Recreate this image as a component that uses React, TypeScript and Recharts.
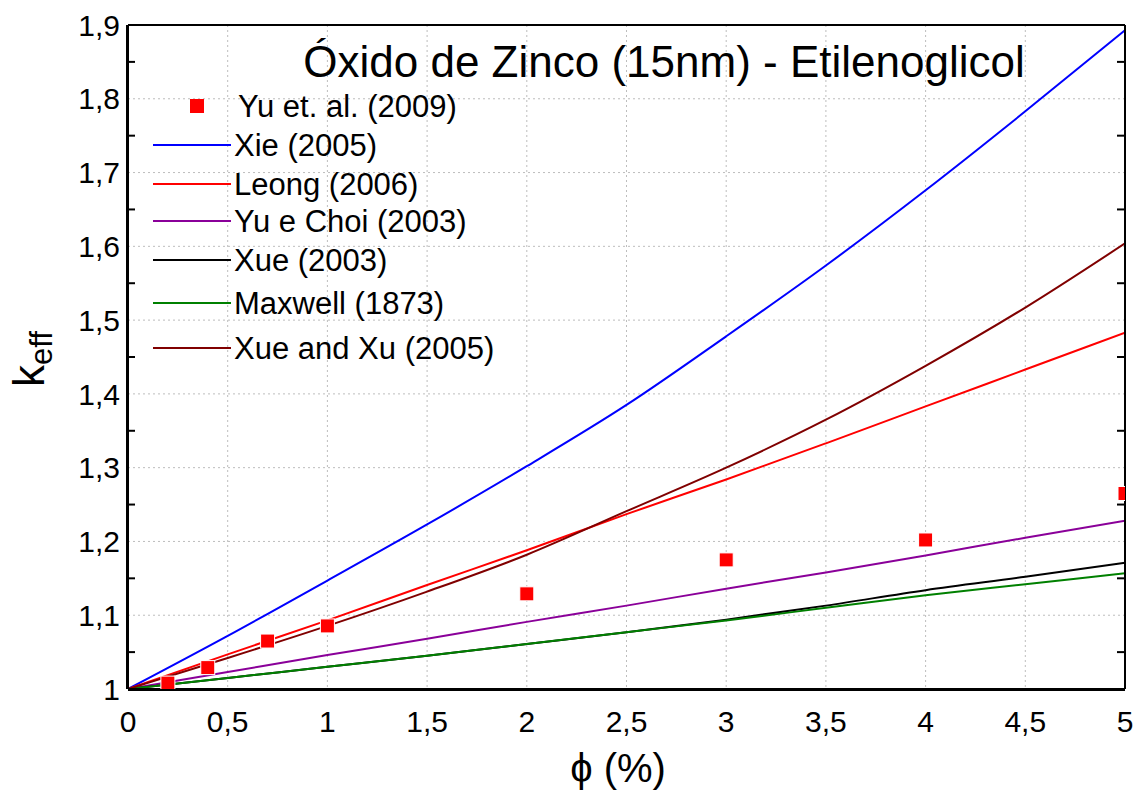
import React from 'react';
import { ComposedChart, Line, Scatter, XAxis, YAxis, CartesianGrid } from 'recharts';

// volume fraction grid used for the model curves
const phi = [0, 0.5, 1, 1.5, 2, 2.5, 3, 3.5, 4, 4.5, 5];
const xie = [1, 1.072, 1.147, 1.223, 1.302, 1.385, 1.478, 1.574, 1.676, 1.783, 1.893];
const leong = [1, 1.047, 1.093, 1.141, 1.188, 1.237, 1.284, 1.333, 1.383, 1.433, 1.483];
const yuChoi = [1, 1.023, 1.046, 1.068, 1.091, 1.113, 1.136, 1.158, 1.181, 1.205, 1.228];
const xue2003 = [1, 1.015, 1.03, 1.045, 1.061, 1.077, 1.094, 1.113, 1.134, 1.152, 1.171];
const maxwell = [1, 1.015, 1.03, 1.045, 1.061, 1.077, 1.093, 1.11, 1.127, 1.142, 1.157];
const xueXu = [1, 1.042, 1.0855, 1.132, 1.182, 1.241, 1.3, 1.365, 1.438, 1.517, 1.604];

// measured points, Yu et al.
const expPhi = [0.2, 0.4, 0.7, 1, 2, 3, 4, 5];
const expK = [1.008, 1.029, 1.065, 1.0855, 1.129, 1.175, 1.202, 1.265];

const xTicks = [0, 0.5, 1, 1.5, 2, 2.5, 3, 3.5, 4, 4.5, 5];
const yTicks = [1, 1.1, 1.2, 1.3, 1.4, 1.5, 1.6, 1.7, 1.8, 1.9];
const xMinor = [0.25, 0.75, 1.25, 1.75, 2.25, 2.75, 3.25, 3.75, 4.25, 4.75];
const yMinor = [1.05, 1.15, 1.25, 1.35, 1.45, 1.55, 1.65, 1.75, 1.85];

const models = [
  { name: 'Xie (2005)', values: xie, color: '#0000ff' },
  { name: 'Leong (2006)', values: leong, color: '#ff0000' },
  { name: 'Yu e Choi (2003)', values: yuChoi, color: '#8a0099' },
  { name: 'Xue (2003)', values: xue2003, color: '#000000' },
  { name: 'Maxwell (1873)', values: maxwell, color: '#008000' },
  { name: 'Xue and Xu (2005)', values: xueXu, color: '#800000' },
];

const toPoints = (xs: number[], ys: number[]) => xs.map((x, i) => ({ x, y: ys[i] }));
const comma = (v: number) => String(v).replace('.', ',');

const FONT = '"Liberation Sans", Arial, sans-serif';
const tickStyle = { fill: '#000', fontSize: 30, fontFamily: FONT };
const black2 = { stroke: '#000', strokeWidth: 2 };

// legend rows (y of each entry) inside the plot
const legendRows = [106, 145, 184, 221, 260, 303, 348];

// minor axes draw only their inward tick marks
const NoLabel = () => <g />;

const SquareDot = (props: any) => {
  const { cx, cy } = props;
  if (cx == null || cy == null) return <g />;
  return <rect x={cx - 7} y={cy - 7} width={14} height={14} fill="#ff0000" stroke="#fff" strokeWidth={1} />;
};

export default function App() {
  const expData = toPoints(expPhi, expK);

  return (
    <div style={{ position: 'absolute', left: 0, top: 0, width: 1141, height: 796, background: '#fff', fontFamily: FONT }}>
      <ComposedChart width={1141} height={796} margin={{ top: 24, right: 15, bottom: 105, left: 126 }}>
        <CartesianGrid stroke="#bdbdbd" strokeDasharray="2 3" />
        <XAxis
          dataKey="x"
          type="number"
          domain={[0, 5]}
          ticks={xTicks}
          interval={0}
          allowDataOverflow
          height={1}
          tickLine={false}
          tickSize={0}
          tickMargin={22}
          tick={tickStyle}
          tickFormatter={comma}
          axisLine={black2}
        />
        <XAxis
          xAxisId="minorBottom"
          type="number"
          domain={[0, 5]}
          ticks={xMinor}
          interval={0}
          allowDataOverflow
          height={1}
          tick={NoLabel}
          tickSize={-8}
          tickLine={black2}
          axisLine={black2}
        />
        <XAxis
          xAxisId="minorTop"
          orientation="top"
          type="number"
          domain={[0, 5]}
          ticks={xMinor}
          interval={0}
          allowDataOverflow
          height={1}
          tick={NoLabel}
          tickSize={-8}
          tickLine={black2}
          axisLine={black2}
        />
        <YAxis
          dataKey="y"
          type="number"
          domain={[1, 1.9]}
          ticks={yTicks}
          interval={0}
          allowDataOverflow
          width={1}
          tickLine={false}
          tickSize={0}
          tickMargin={8}
          tick={tickStyle}
          tickFormatter={comma}
          axisLine={black2}
        />
        <YAxis
          yAxisId="minorLeft"
          type="number"
          domain={[1, 1.9]}
          ticks={yMinor}
          interval={0}
          allowDataOverflow
          width={1}
          tick={NoLabel}
          tickSize={-8}
          tickLine={black2}
          axisLine={black2}
        />
        <YAxis
          yAxisId="minorRight"
          orientation="right"
          type="number"
          domain={[1, 1.9]}
          ticks={yMinor}
          interval={0}
          allowDataOverflow
          width={1}
          tick={NoLabel}
          tickSize={-8}
          tickLine={black2}
          axisLine={black2}
        />
        {models.map((m) => (
          <Line
            key={m.name}
            data={toPoints(phi, m.values)}
            dataKey="y"
            name={m.name}
            type="monotone"
            stroke={m.color}
            strokeWidth={2}
            dot={false}
            activeDot={false}
            isAnimationActive={false}
          />
        ))}
        <Scatter data={expData} dataKey="y" name="Yu et. al. (2009)" shape={SquareDot} isAnimationActive={false} />
      </ComposedChart>

      <svg width={1141} height={796} style={{ position: 'absolute', left: 0, top: 0, pointerEvents: 'none' }} fontFamily={FONT}>
        <text x={664} y={77} textAnchor="middle" fontSize={44} fill="#000">
          Óxido de Zinco (15nm) - Etilenoglicol
        </text>

        <g fontSize={31} fill="#000">
          <rect x={190} y={legendRows[0] - 7} width={14} height={14} fill="#ff0000" />
          <text x={238} y={legendRows[0]} dominantBaseline="central">Yu et. al. (2009)</text>
          {models.map((m, i) => (
            <g key={m.name}>
              <line x1={153} x2={231} y1={legendRows[i + 1]} y2={legendRows[i + 1]} stroke={m.color} strokeWidth={2} />
              <text x={234} y={legendRows[i + 1]} dominantBaseline="central">{m.name}</text>
            </g>
          ))}
        </g>

        <text x={618} y={782} textAnchor="middle" fontSize={40} fill="#000">ϕ (%)</text>

        <text transform="rotate(-90, 44, 359)" x={44} y={359} textAnchor="middle" fill="#000">
          <tspan fontSize={44}>k</tspan>
          <tspan fontSize={31} dy={8}>eff</tspan>
        </text>
      </svg>
    </div>
  );
}
